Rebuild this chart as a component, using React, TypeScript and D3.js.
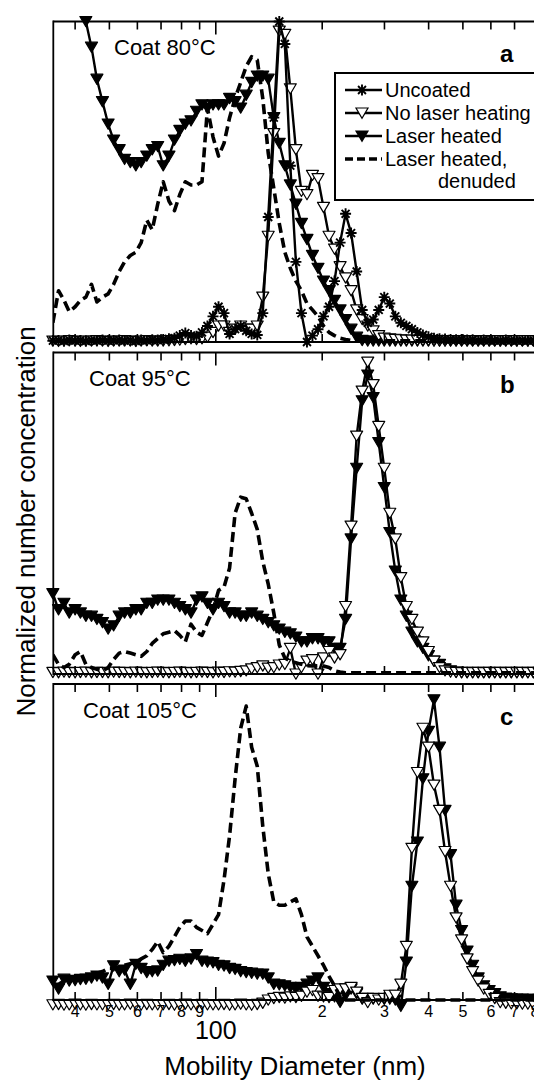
import React, { useEffect, useRef } from "react";
import * as d3 from "d3";

// SMPS bin mid-point diameters (nm), 64 channels per decade
const diameters = [
  34.6, 35.9, 37.2, 38.5, 40.0, 41.4, 42.9, 44.5, 46.1, 47.8,
  49.6, 51.4, 53.3, 55.2, 57.3, 59.4, 61.5, 63.8, 66.1, 68.5,
  71.0, 73.7, 76.4, 79.1, 82.0, 85.1, 88.2, 91.4, 94.7, 98.2,
  101.8, 105.5, 109.4, 113.4, 117.6, 121.9, 126.3, 131.0, 135.8, 140.7,
  145.9, 151.2, 156.8, 162.5, 168.5, 174.7, 181.1, 187.7, 194.6, 201.7,
  209.1, 216.7, 224.7, 232.9, 241.4, 250.3, 259.5, 269.0, 278.8, 289.0,
  299.6, 310.6, 322.0, 333.8, 346.0, 358.7, 371.8, 385.4, 399.5, 414.2,
  429.4, 445.1, 461.4, 478.3, 495.8, 514.0, 532.8, 552.3, 572.5, 593.5,
  615.3, 637.8, 661.2, 685.4, 710.5, 736.5, 763.5, 791.5, 820.5, 850.5,
];

// panel a, coat 80 °C
const a_uncoated = [
  0.004, 0.005, 0.003, 0.006, 0.004, 0.005, 0.003, 0.005, 0.004, 0.006,
  0.004, 0.005, 0.006, 0.004, 0.005, 0.003, 0.006, 0.005, 0.007, 0.006,
  0.008, 0.01, 0.012, 0.02, 0.028, 0.02, 0.018, 0.03, 0.05, 0.08,
  0.11, 0.09, 0.025, 0.04, 0.05, 0.035, 0.025, 0.022, 0.09, 0.39,
  0.7, 1.0, 0.93, 0.55, 0.25, 0.09, 0.0, 0.02, 0.04, 0.08,
  0.11, 0.19, 0.31, 0.4, 0.34, 0.22, 0.1, 0.06, 0.07, 0.1,
  0.14, 0.12, 0.08, 0.06, 0.05, 0.04, 0.03, 0.022, 0.016, 0.012,
  0.01, 0.009, 0.008, 0.007, 0.008, 0.006, 0.007, 0.005, 0.006, 0.005,
  0.005, 0.004, 0.006, 0.005, 0.004, 0.005, 0.004, 0.005, 0.004, 0.005,
];
const a_noLaser = [
  0.003, 0.002, 0.003, 0.004, 0.003, 0.002, 0.003, 0.003, 0.004, 0.003,
  0.002, 0.003, 0.003, 0.004, 0.003, 0.002, 0.003, 0.004, 0.003, 0.003,
  0.003, 0.004, 0.005, 0.006, 0.008, 0.01, 0.008, 0.01, 0.015, 0.03,
  0.05, 0.05, 0.03, 0.04, 0.05, 0.04, 0.04, 0.05, 0.14, 0.33,
  0.65, 0.97, 0.96, 0.79, 0.6, 0.47, 0.46, 0.52, 0.51, 0.42,
  0.33, 0.29, 0.235, 0.2, 0.16, 0.1, 0.07, 0.05, 0.035, 0.02,
  0.012, 0.01, 0.008, 0.007, 0.006, 0.006, 0.005, 0.005, 0.005, 0.004,
  0.004, 0.004, 0.004, 0.004, 0.004, 0.004, 0.004, 0.004, 0.004, 0.004,
  0.004, 0.004, 0.004, 0.004, 0.004, 0.004, 0.004, 0.004, 0.004, 0.004,
];
const a_laser = [
  1.6, 1.5, 1.4, 1.3, 1.2, 1.1, 1.0, 0.92, 0.82, 0.75,
  0.68, 0.63, 0.6, 0.57, 0.56, 0.55, 0.56, 0.58, 0.6, 0.61,
  0.55, 0.58, 0.63, 0.66, 0.68, 0.69, 0.72, 0.74, 0.73, 0.74,
  0.74, 0.74, 0.76, 0.75, 0.73, 0.77, 0.81, 0.83, 0.83, 0.82,
  0.7, 0.62, 0.55, 0.49, 0.43, 0.37, 0.32, 0.27, 0.23, 0.19,
  0.16, 0.13, 0.1, 0.07, 0.04, 0.015, 0.005, 0.003, 0.003, 0.003,
  0.003, 0.003, 0.003, 0.003, 0.003, 0.003, 0.003, 0.003, 0.003, 0.003,
  0.003, 0.003, 0.003, 0.003, 0.003, 0.003, 0.003, 0.003, 0.003, 0.003,
  0.003, 0.003, 0.003, 0.003, 0.003, 0.003, 0.003, 0.003, 0.003, 0.003,
];
const a_denuded = [
  0.06, 0.16, 0.13, 0.095, 0.11, 0.13, 0.14, 0.18, 0.125, 0.14,
  0.15, 0.18, 0.22, 0.25, 0.27, 0.28, 0.31, 0.38, 0.35, 0.43,
  0.5, 0.44, 0.41, 0.46, 0.5, 0.49, 0.49, 0.5, 0.73, 0.64,
  0.58, 0.62, 0.7, 0.76, 0.81, 0.86, 0.89, 0.88, 0.76, 0.59,
  0.48, 0.37, 0.28, 0.23, 0.19, 0.16, 0.12, 0.1, 0.08, 0.05,
  0.03, 0.02, 0.012, 0.008, 0.005, 0.005, 0.005, 0.004, 0.004, 0.004,
  0.004, 0.004, 0.004, 0.004, 0.004, 0.004, 0.004, 0.004, 0.004, 0.004,
  0.004, 0.004, 0.004, 0.004, 0.004, 0.004, 0.004, 0.004, 0.004, 0.004,
  0.004, 0.004, 0.004, 0.004, 0.004, 0.004, 0.004, 0.004, 0.004, 0.004,
];

// panel b, coat 95 °C
const b_noLaser = [
  0.005, 0.004, 0.006, 0.005, 0.004, 0.005, 0.006, 0.004, 0.005, 0.005,
  0.004, 0.006, 0.005, 0.005, 0.004, 0.006, 0.005, 0.004, 0.005, 0.006,
  0.005, 0.004, 0.005, 0.006, 0.005, 0.004, 0.005, 0.006, 0.005, 0.004,
  0.006, 0.005, 0.007, 0.006, 0.008, 0.01, 0.016, 0.02, 0.025, 0.018,
  0.02, 0.028, 0.03, 0.08, 0.0, 0.02, 0.04, 0.045, 0.0, 0.05,
  0.07, 0.05, 0.06, 0.21, 0.46, 0.74, 0.88, 0.97, 0.9, 0.77,
  0.64, 0.5, 0.42, 0.3, 0.21, 0.17, 0.13, 0.1, 0.07, 0.04,
  0.02, 0.01, 0.006, 0.005, 0.004, 0.005, 0.004, 0.005, 0.004, 0.005,
  0.004, 0.005, 0.004, 0.005, 0.004, 0.005, 0.004, 0.005, 0.004, 0.005,
];
const b_laser = [
  0.25, 0.2, 0.22, 0.19, 0.2, 0.19, 0.18, 0.18, 0.17, 0.16,
  0.14, 0.15, 0.18, 0.19, 0.19, 0.2, 0.2, 0.22, 0.22, 0.23,
  0.23, 0.23, 0.22, 0.21, 0.2, 0.19, 0.23, 0.24, 0.22, 0.2,
  0.22, 0.21, 0.19, 0.19, 0.18, 0.18, 0.19, 0.18, 0.17, 0.16,
  0.15, 0.14, 0.13, 0.125, 0.115, 0.1, 0.1, 0.11, 0.11, 0.1,
  0.1, 0.08, 0.08, 0.17, 0.42, 0.64, 0.85, 0.93, 0.86, 0.72,
  0.58, 0.44, 0.32, 0.23, 0.18, 0.13, 0.1, 0.08, 0.057, 0.04,
  0.03, 0.016, 0.01, 0.006, 0.005, 0.004, 0.005, 0.004, 0.005, 0.004,
  0.005, 0.004, 0.005, 0.004, 0.005, 0.004, 0.005, 0.004, 0.005, 0.004,
];
const b_denuded = [
  0.06, 0.03, 0.02, 0.03, 0.06, 0.07, 0.03, 0.02, 0.015, 0.01,
  0.02, 0.045, 0.065, 0.07, 0.065, 0.06, 0.055, 0.07, 0.095, 0.11,
  0.125, 0.13, 0.135, 0.12, 0.1, 0.155, 0.13, 0.12, 0.16, 0.2,
  0.26, 0.27, 0.33, 0.5, 0.55, 0.545, 0.5, 0.45, 0.35, 0.28,
  0.19, 0.09, 0.05, 0.04, 0.035, 0.03, 0.026, 0.025, 0.026, 0.025,
  0.02, 0.01, 0.006, 0.004, 0.004, 0.004, 0.004, 0.004, 0.004, 0.004,
  0.004, 0.004, 0.004, 0.004, 0.004, 0.004, 0.004, 0.004, 0.004, 0.004,
  0.004, 0.004, 0.004, 0.004, 0.004, 0.004, 0.004, 0.004, 0.004, 0.004,
  0.004, 0.004, 0.004, 0.004, 0.004, 0.004, 0.004, 0.004, 0.004, 0.004,
];

// panel c, coat 105 °C
const c_noLaser = [
  -0.015, -0.014, -0.016, -0.015, -0.013, -0.015, -0.016, -0.014, -0.015, -0.015,
  -0.015, -0.014, -0.016, -0.015, -0.013, -0.015, -0.016, -0.014, -0.015, -0.015,
  -0.015, -0.014, -0.016, -0.015, -0.013, -0.015, -0.016, -0.014, -0.015, -0.015,
  -0.015, -0.014, -0.016, -0.015, -0.013, -0.015, -0.016, -0.014, -0.01, 0.0,
  0.005, 0.008, 0.006, 0.01, 0.008, 0.012, 0.025, 0.03, 0.012, 0.01,
  0.008, 0.03, 0.035, 0.035, 0.04, 0.025, 0.005, -0.008, 0.005, 0.0,
  0.005, 0.015, 0.015, 0.05, 0.17, 0.48, 0.72, 0.86, 0.8, 0.68,
  0.6, 0.47, 0.36, 0.26, 0.19, 0.13, 0.09, 0.06, 0.035, 0.018,
  0.005, -0.008, -0.01, -0.012, -0.012, -0.013, -0.013, -0.014, -0.014, -0.015,
];
const c_laser = [
  0.06, 0.035, 0.066, 0.06, 0.062, 0.065, 0.066, 0.07, 0.076, 0.07,
  0.05, 0.108, 0.09, 0.095, 0.05, 0.113, 0.1, 0.087, 0.09, 0.092,
  0.11, 0.123, 0.125, 0.129, 0.123, 0.13, 0.144, 0.123, 0.12, 0.118,
  0.11, 0.108, 0.1, 0.097, 0.09, 0.087, 0.085, 0.082, 0.082, 0.07,
  0.05, 0.048, 0.045, 0.04, 0.035, 0.04, 0.05, 0.06, 0.07, 0.04,
  0.02, 0.01, -0.007, 0.015, 0.035, 0.02, 0.003, 0.005, 0.003, 0.004,
  0.002, 0.003, 0.0, -0.02, 0.12, 0.36, 0.5, 0.7, 0.85, 0.95,
  0.8, 0.6, 0.46, 0.3, 0.22, 0.155, 0.11, 0.07, 0.045, 0.03,
  0.02, 0.01, 0.006, 0.004, 0.003, 0.003, 0.002, 0.002, 0.002, 0.002,
];
const c_denuded = [
  0.05, 0.05, 0.06, 0.065, 0.07, 0.07, 0.075, 0.08, 0.085, 0.09,
  0.1, 0.1, 0.105, 0.11, 0.115, 0.12, 0.13, 0.14, 0.16, 0.185,
  0.15, 0.17, 0.2, 0.23, 0.25, 0.25, 0.23, 0.22, 0.21, 0.24,
  0.27, 0.38, 0.52, 0.7, 0.86, 0.93, 0.8, 0.74, 0.55, 0.4,
  0.31, 0.3, 0.3, 0.31, 0.32, 0.27, 0.2, 0.17, 0.14, 0.11,
  0.075, 0.045, 0.01, 0, 0, 0, 0, 0, 0, 0,
  0, 0, 0, 0, 0, 0, 0, 0, 0, 0,
  0, 0, 0, 0, 0, 0, 0, 0, 0, 0,
  0, 0, 0, 0, 0, 0, 0, 0, 0, 0,
];

const minorTicks = [40, 50, 60, 70, 80, 90, 200, 300, 400, 500, 600, 700, 800, 900];
const majorTicks = [100, 1000];
const lowLabels = [40, 50, 60, 70, 80, 90];
const highLabels = [200, 300, 400, 500, 600, 700, 800];
const legendNames = ["Uncoated", "No laser heating", "Laser heated", "Laser heated,"];

const W = 534;
const H = 1082;
const FONT = "'Liberation Sans', Arial, Helvetica, sans-serif";

const panels = [
  { id: "a", coat: "Coat 80°C", coatX: 114, top: 21.5, bottom: 342,
    series: { uncoated: a_uncoated, noLaser: a_noLaser, laser: a_laser, denuded: a_denuded } },
  { id: "b", coat: "Coat 95°C", coatX: 89, top: 352.5, bottom: 674,
    series: { noLaser: b_noLaser, laser: b_laser, denuded: b_denuded } },
  { id: "c", coat: "Coat 105°C", coatX: 83, top: 684, bottom: 1000,
    series: { noLaser: c_noLaser, laser: c_laser, denuded: c_denuded } },
];

// inverted triangle marker, about 12 px wide
const triDown = "M-6,-5L6,-5L0,5.2Z";

function drawAsterisk(g: any, cx: number, cy: number) {
  const r = 5.5;
  const d = r * 0.72;
  g.append("path")
    .attr("d", `M${cx - r},${cy}L${cx + r},${cy}M${cx},${cy - r}L${cx},${cy + r}M${cx - d},${cy - d}L${cx + d},${cy + d}M${cx - d},${cy + d}L${cx + d},${cy - d}`)
    .attr("stroke", "#000")
    .attr("stroke-width", 1.9)
    .attr("fill", "none");
}

export default function App() {
  const ref = useRef<SVGSVGElement>(null);

  useEffect(() => {
    const svg = d3.select(ref.current);
    svg.selectAll("*").remove();
    svg.append("rect").attr("width", W).attr("height", H).attr("fill", "#fff");

    const x = d3.scaleLog().domain([34.7, 1000]).range([53.3, 569.3]);
    const [x0, x1] = x.range();

    panels.forEach((p) => {
      const y = d3.scaleLinear().domain([0, 1]).range([p.bottom, p.top]);
      const g = svg.append("g");

      const clipId = `clip-${p.id}`;
      svg.append("clipPath").attr("id", clipId)
        .append("rect")
        .attr("x", x0).attr("y", p.top)
        .attr("width", x1 - x0).attr("height", p.bottom - p.top + 8);

      const line = d3.line<number>()
        .x((_d, i) => x(diameters[i]))
        .y((d) => y(d));

      const s: any = p.series;
      const order = ["laser", "noLaser", "uncoated", "denuded"];
      order.forEach((key) => {
        const vals: number[] | undefined = s[key];
        if (!vals) return;
        const n = Math.min(vals.length, diameters.length);
        const v = vals.slice(0, n);
        const dashed = key === "denuded";
        g.append("path")
          .attr("d", line(v))
          .attr("clip-path", `url(#${clipId})`)
          .attr("fill", "none")
          .attr("stroke", "#000")
          .attr("stroke-width", dashed ? 3.6 : 2.4)
          .attr("stroke-dasharray", dashed ? "10,5" : null)
          .attr("stroke-linejoin", "round");

        if (dashed) return;
        const mg = g.append("g");
        v.forEach((val, i) => {
          if (val > 1.03) return;
          const cx = x(diameters[i]);
          const cy = y(val);
          if (key === "uncoated") {
            drawAsterisk(mg, cx, cy);
          } else {
            mg.append("path")
              .attr("d", triDown)
              .attr("transform", `translate(${cx},${cy})`)
              .attr("fill", key === "laser" ? "#000" : "#fff")
              .attr("stroke", "#000")
              .attr("stroke-width", 1.2)
              .attr("stroke-linejoin", "round");
          }
        });
      });

      // frame
      const fr = svg.append("g").attr("stroke", "#000").attr("stroke-width", 1.8);
      fr.append("line").attr("x1", x0).attr("x2", x1).attr("y1", p.top).attr("y2", p.top);
      fr.append("line").attr("x1", x0).attr("x2", x1).attr("y1", p.bottom).attr("y2", p.bottom);
      fr.append("line").attr("x1", x0).attr("x2", x0).attr("y1", p.top - 0.9).attr("y2", p.bottom + 0.9);

      // inside ticks, top and bottom
      const tk = svg.append("g").attr("stroke", "#000").attr("stroke-width", 1.6);
      minorTicks.forEach((t) => {
        const tx = x(t);
        tk.append("line").attr("x1", tx).attr("x2", tx).attr("y1", p.top).attr("y2", p.top + 8);
        tk.append("line").attr("x1", tx).attr("x2", tx).attr("y1", p.bottom).attr("y2", p.bottom - 8);
      });
      majorTicks.forEach((t) => {
        const tx = x(t);
        tk.append("line").attr("x1", tx).attr("x2", tx).attr("y1", p.top).attr("y2", p.top + 13);
        tk.append("line").attr("x1", tx).attr("x2", tx).attr("y1", p.bottom).attr("y2", p.bottom - 13);
      });

      svg.append("text")
        .attr("x", p.coatX).attr("y", p.top + 33.5)
        .attr("font-family", FONT).attr("font-size", 22)
        .text(p.coat);
      svg.append("text")
        .attr("x", 500).attr("y", p.top + 40.5)
        .attr("font-family", FONT).attr("font-size", 24).attr("font-weight", "bold")
        .text(p.id);
    });

    // legend in panel a
    const lg = svg.append("g");
    lg.append("rect")
      .attr("x", 335).attr("y", 73).attr("width", 260).attr("height", 127)
      .attr("fill", "#fff").attr("stroke", "#000").attr("stroke-width", 2);
    legendNames.forEach((name, i) => {
      const by = 97 + i * 23;
      const ly = by - 7;
      lg.append("line")
        .attr("x1", 345).attr("x2", 382).attr("y1", ly).attr("y2", ly)
        .attr("stroke", "#000")
        .attr("stroke-width", i === 3 ? 3.6 : 2.4)
        .attr("stroke-dasharray", i === 3 ? "8,4" : null);
      if (i === 0) drawAsterisk(lg, 362, ly);
      if (i === 1 || i === 2) {
        lg.append("path").attr("d", triDown)
          .attr("transform", `translate(362,${ly})`)
          .attr("fill", i === 2 ? "#000" : "#fff")
          .attr("stroke", "#000").attr("stroke-width", 1.2);
      }
      lg.append("text")
        .attr("x", 385).attr("y", by)
        .attr("font-family", FONT).attr("font-size", 20)
        .text(name);
    });
    lg.append("text")
      .attr("x", 438).attr("y", 188)
      .attr("font-family", FONT).attr("font-size", 20)
      .text("denuded");

    // bottom axis labels
    const ax = svg.append("g").attr("font-family", FONT).attr("text-anchor", "middle");
    [...lowLabels, ...highLabels].forEach((t) => {
      ax.append("text")
        .attr("x", x(t)).attr("y", 1017)
        .attr("font-size", 16)
        .text(String(t).charAt(0));
    });
    ax.append("text")
      .attr("x", x(100)).attr("y", 1039)
      .attr("font-size", 25)
      .text("100");

    svg.append("text")
      .attr("x", 295).attr("y", 1075)
      .attr("text-anchor", "middle")
      .attr("font-family", FONT).attr("font-size", 26)
      .text("Mobility Diameter (nm)");

    svg.append("text")
      .attr("transform", "translate(35,521.5) rotate(-90)")
      .attr("text-anchor", "middle")
      .attr("font-family", FONT).attr("font-size", 26)
      .text("Normalized number concentration");
  }, []);

  return (
    <svg
      ref={ref}
      width={W}
      height={H}
      style={{ position: "absolute", left: 0, top: 0, display: "block" }}
    />
  );
}
